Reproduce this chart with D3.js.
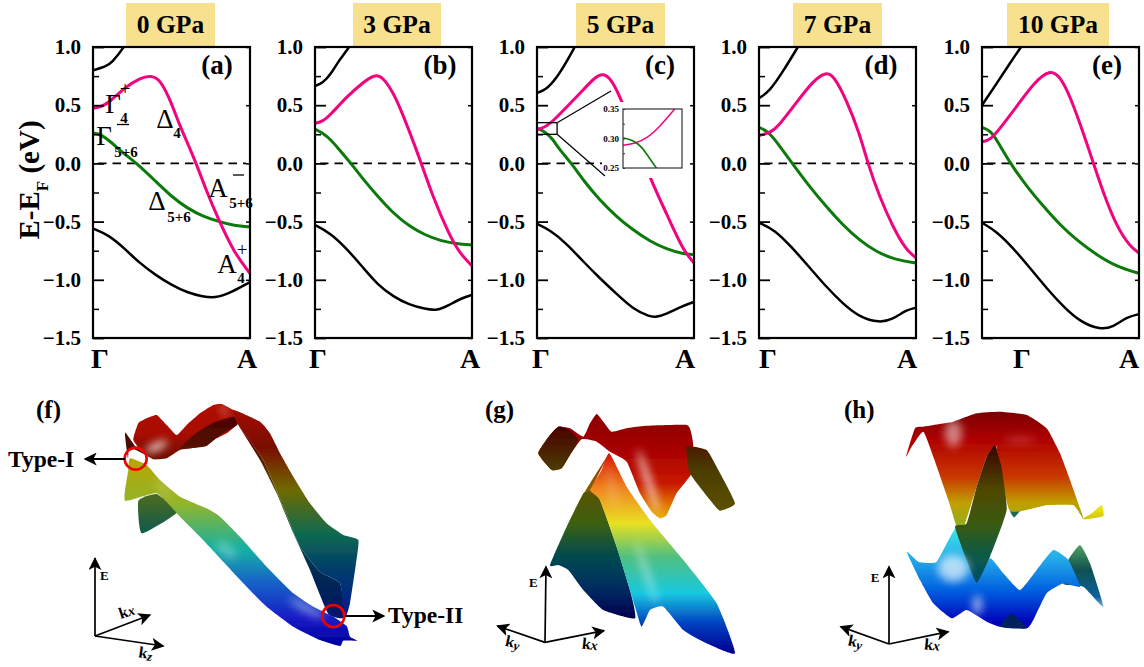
<!DOCTYPE html>
<html>
<head>
<meta charset="utf-8">
<script src="https://cdn.jsdelivr.net/npm/d3@7"></script>
<style>
  html,body{margin:0;padding:0;background:#fff;}
  text{font-family:"Liberation Serif",serif;fill:#000;}
</style>
</head>
<body>
<div id="graficos"></div>
<script>
// band values, [position along Gamma-A (0..1), E-EF in eV]
const pressures=['0 GPa','3 GPa','5 GPa','7 GPa','10 GPa'];
const letras=['(a)','(b)','(c)','(d)','(e)'];
const yMajor=[1,0.5,0,-0.5,-1,-1.5];
const yMinor=[0.75,0.25,-0.25,-0.75,-1.25];

const top0=[[0,.8],[.08,.83],[.12,.865],[.2,1],[.26,1.14]];
const pink0=[[0,.475],[.05,.485],[.1,.52],[.2,.65],[.3,.735],[.37,.755],[.43,.72],[.5,.52],[.55,.33],[.65,.03],[.72,-.23],[.8,-.485],[.9,-.77],[1,-.945]];
const green0=[[0,.26],[.05,.25],[.1,.2],[.2,.08],[.28,0],[.4,-.155],[.5,-.285],[.6,-.385],[.7,-.455],[.8,-.5],[.9,-.535],[1,-.545]];
const low0=[[0,-.56],[.1,-.615],[.2,-.73],[.3,-.86],[.4,-.96],[.5,-1.045],[.6,-1.11],[.7,-1.145],[.78,-1.155],[.85,-1.125],[.93,-1.07],[1,-1.02]];

const top3=[[0,.665],[.05,.69],[.1,.765],[.15,.88],[.22,1],[.27,1.12]];
const pink3=[[0,.345],[.05,.36],[.1,.42],[.2,.57],[.3,.69],[.38,.765],[.43,.745],[.5,.605],[.55,.45],[.6,.28],[.67,.03],[.75,-.285],[.85,-.6],[.92,-.77],[1,-.88]];
const green3=[[0,.295],[.05,.26],[.1,.205],[.15,.125],[.23,0],[.3,-.125],[.4,-.285],[.5,-.43],[.6,-.54],[.7,-.615],[.8,-.665],[.9,-.69],[1,-.7]];
const low3=[[0,-.53],[.1,-.6],[.2,-.73],[.3,-.885],[.4,-1.045],[.5,-1.145],[.6,-1.215],[.7,-1.25],[.78,-1.265],[.85,-1.22],[.93,-1.16],[1,-1.13]];

const top5=[[0,.605],[.06,.635],[.123,.73],[.187,.87],[.24,1],[.29,1.12]];
const pink5=[[0,.29],[.05,.31],[.1,.36],[.2,.5],[.3,.64],[.37,.74],[.42,.775],[.47,.73],[.53,.57],[.6,.33],[.65,.14],[.72,-.13],[.83,-.445],[.93,-.745],[1,-.855]];
const green5=[[0,.3],[.05,.275],[.1,.21],[.145,.115],[.22,0],[.3,-.155],[.4,-.315],[.506,-.457],[.61,-.571],[.72,-.67],[.825,-.737],[.93,-.777],[1,-.785]];
const low5=[[0,-.52],[.08,-.57],[.187,-.686],[.294,-.843],[.4,-.986],[.506,-1.12],[.61,-1.25],[.72,-1.32],[.76,-1.32],[.825,-1.293],[.91,-1.235],[1,-1.19]];

const top7=[[0,.56],[.068,.62],[.153,.79],[.248,1],[.3,1.12]];
const pink7=[[0,.24],[.07,.26],[.13,.33],[.237,.52],[.343,.707],[.428,.79],[.48,.745],[.555,.55],[.64,.26],[.693,0],[.767,-.285],[.852,-.543],[.936,-.744],[1,-.81]];
const green7=[[0,.31],[.057,.275],[.11,.19],[.212,0],[.322,-.2],[.428,-.37],[.534,-.53],[.64,-.66],[.746,-.76],[.873,-.83],[1,-.855]];
const low7=[[0,-.51],[.1,-.57],[.205,-.715],[.31,-.875],[.428,-1.06],[.534,-1.205],[.64,-1.32],[.767,-1.37],[.852,-1.34],[.936,-1.26],[1,-1.24]];

const top10=[[0,.5],[.095,.69],[.18,.865],[.248,1],[.3,1.1]];
const pink10=[[0,.185],[.053,.2],[.117,.305],[.222,.49],[.328,.69],[.434,.81],[.498,.745],[.561,.578],[.646,.26],[.71,0],[.773,-.255],[.858,-.543],[.943,-.715],[1,-.77]];
const green10=[[0,.31],[.053,.285],[.106,.175],[.18,0],[.286,-.2],[.392,-.37],[.498,-.53],[.604,-.66],[.731,-.787],[.858,-.888],[1,-.945]];
const low10=[[0,-.51],[.095,-.586],[.2,-.73],[.307,-.9],[.413,-1.075],[.52,-1.233],[.625,-1.36],[.752,-1.43],[.837,-1.405],[.922,-1.32],[1,-1.295]];

const topos=[top0,top3,top5,top7,top10];
const rosas=[pink0,pink3,pink5,pink7,pink10];
const verdes=[green0,green3,green5,green7,green10];
const baixos=[low0,low3,low5,low7,low10];

// inset of panel c
const insetPink=[[0,.2886],[.0265,.2915],[.0515,.3],[.08,.32],[.112,.35],[.125,.362]];
const insetGreen=[[0,.301],[.0229,.297],[.0408,.286],[.055,.269],[.073,.25],[.08,.24]];

// surface sheets (f,g,h), outlines read in [k,E] picture units
const fBack=[[375,128],[405,168],[440,196],[402,178],[386,182],[384,205]];
const fHump=[[400,150],[415,100],[440,85],[470,75],[500,105],[530,135],[560,105],[600,70],[640,45],[665,42],[700,60],[735,75],[710,105],[680,130],[640,150],[590,172],[540,180],[500,205],[460,208],[430,190]];
const fHumpDark=[[540,175],[590,128],[640,98],[700,80],[712,104],[660,135],[620,168],[580,174]];
const fBand=[[700,60],[780,95],[810,130],[840,190],[880,260],[930,340],[980,400],[1030,435],[1075,450],[1068,520],[1050,640],[1035,682],[1020,580],[960,545],[900,470],[850,350],[790,210],[715,105]];
const fBandDark=[[715,105],[790,210],[850,350],[900,470],[960,545],[1020,580],[1035,682],[985,672],[930,540],[880,430],[830,310],[780,210]];
const fRibbon=[[390,205],[440,225],[480,270],[540,320],[620,355],[660,380],[720,440],[800,530],[880,610],[940,650],[1000,680],[1040,708],[1050,740],[1072,752],[1030,752],[1020,768],[960,750],[880,710],[800,650],[740,590],[670,515],[600,440],[540,380],[470,310],[375,332],[385,240]];
const fFlap=[[415,332],[470,312],[532,366],[425,430]];

const gTop=[[205,190],[240,135],[265,110],[300,115],[340,140],[360,100],[380,72],[400,95],[425,125],[470,115],[520,108],[650,105],[665,135],[670,170],[665,250],[620,310],[590,375],[570,385],[545,365],[510,310],[470,215],[420,185],[380,155],[335,148],[300,195],[275,235],[245,240]];
const gTopEsq=[[205,190],[240,135],[265,110],[295,118],[325,150],[300,195],[275,235],[245,240]];
const gTopDir=[[650,170],[710,180],[745,240],[795,340],[750,362],[720,330],[660,250]];
const gCone=[[418,190],[470,290],[540,390],[640,510],[740,640],[795,790],[700,755],[640,720],[580,650],[540,660],[515,710],[495,650],[440,470],[390,330],[360,300],[395,240]];
const gConeDark=[[360,300],[340,310],[290,410],[240,525],[265,525],[295,540],[340,600],[400,660],[495,685],[480,600],[440,470],[390,330]];
const gConeEsq=[[418,190],[360,300],[345,305],[385,240]];

const hTop=[[258,200],[285,115],[310,110],[340,105],[400,95],[470,70],[540,65],[620,75],[680,115],[720,190],[750,270],[790,385],[760,345],[680,345],[570,362],[530,170],[500,200],[470,290],[430,415],[410,410],[385,330],[340,200],[310,125],[275,170]];
const hFrente=[[530,170],[580,145],[660,140],[710,190],[750,280],[790,385],[760,345],[680,345],[570,362],[545,230]];
const hMeio=[[525,165],[545,230],[560,360],[510,500],[470,580],[440,510],[405,410],[440,400],[470,290],[500,200]];
const hPonta=[[790,385],[815,370],[845,345],[850,378],[795,388]];
const hBit=[[570,362],[603,358],[582,382]];
const hBaixo=[[260,485],[295,515],[350,515],[410,410],[440,505],[470,580],[510,505],[550,550],[600,600],[650,540],[700,480],[745,510],[780,590],[730,580],[680,610],[640,690],[620,715],[540,710],[500,695],[440,660],[395,685],[340,640],[300,570]];
const hCauda=[[745,510],[780,465],[810,520],[850,650],[790,590],[730,582]];
const hPreto=[[540,710],[575,670],[620,715]];

// colour stops [E in picture units, colour]
const fBright=[[200,'#b8a400'],[340,'#93b52a'],[480,'#12b0a4'],[570,'#1268c6'],[680,'#1a1ec8'],[760,'#0000a0']];
const fDim=[[40,'#a80a00'],[170,'#7a0c00'],[300,'#6f6a00'],[430,'#0f6a50'],[540,'#003c6c'],[680,'#001a8c']];
const gBright=[[190,'#d81000'],[300,'#f08a20'],[400,'#e8e020'],[500,'#50c080'],[610,'#18c8e0'],[700,'#0040c0'],[790,'#000090']];
const gDim=[[300,'#5c5200'],[400,'#3c6010'],[500,'#004a50'],[600,'#002a60'],[680,'#000050']];
const gRed=[[70,'#8a0000'],[180,'#a80000'],[280,'#c81800'],[340,'#e07000'],[385,'#e8b000']];
const gFold=[[110,'#4a0000'],[240,'#4c3c00'],[360,'#5a5000']];
const hRed=[[65,'#7a0000'],[150,'#b00000'],[260,'#c83800'],[340,'#c0a000'],[415,'#90b020']];
const hFold=[[165,'#3a0000'],[300,'#504800'],[400,'#3a5a10'],[500,'#0a5a4a'],[580,'#004a70']];
const hBlue=[[410,'#40e8e8'],[520,'#20a0e8'],[600,'#0060e0'],[700,'#0000b8']];
const hTeal=[[465,'#50a060'],[540,'#105050'],[620,'#0a60a0'],[650,'#80b0d0']];

const largura=1144, altura=667;
const svg=d3.select('#graficos').append('svg')
  .attr('width',largura).attr('height',altura)
  .style('display','block');
const defs=svg.append('defs');

const quadros=[93,315,537,759,982];
const caixas=[[126,215],[353,441],[576,665],[793,882],[1007,1109]];
const gammaX=[100,318,541,768,1022];
const aX=[247,470,685,907,1129];
const letraX=[217,440,660,881,1107];

const w=157, yTopo=47, yBase=338;
const y=d3.scaleLinear().domain([-1.5,1]).range([yBase,yTopo]);

const linha=(xs,ys)=>d3.line().x(d=>xs(d[0])).y(d=>ys(d[1])).curve(d3.curveBasis);

pressures.forEach((nome,i)=>{
  const x0=quadros[i];
  const x=d3.scaleLinear().domain([0,1]).range([x0,x0+w]);
  const g=svg.append('g');

  g.append('rect').attr('x',caixas[i][0]).attr('y',3)
    .attr('width',caixas[i][1]-caixas[i][0]).attr('height',yTopo-3)
    .attr('fill','#f7e08e');
  g.append('text').attr('x',(caixas[i][0]+caixas[i][1])/2).attr('y',33)
    .attr('text-anchor','middle').attr('font-weight','bold').attr('font-size',25.5).text(nome);

  defs.append('clipPath').attr('id','corte'+i).append('rect')
    .attr('x',x0).attr('y',yTopo).attr('width',w).attr('height',yBase-yTopo);

  const corpo=g.append('g').attr('clip-path','url(#corte'+i+')');
  corpo.append('line').attr('x1',x0+5).attr('x2',x0+w-4).attr('y1',y(0)).attr('y2',y(0))
    .attr('stroke','#000').attr('stroke-width',1.7).attr('stroke-dasharray','8.5,6');

  const l=linha(x,y);
  [[baixos[i],'#000',2.5],[topos[i],'#000',2.5],[verdes[i],'#0b7a0b',3],[rosas[i],'#f0047f',3]].forEach(c=>{
    corpo.append('path').attr('d',l(c[0])).attr('fill','none')
      .attr('stroke',c[1]).attr('stroke-width',c[2]);
  });

  // eixos
  const esq=g.append('g').attr('transform','translate('+x0+',0)')
    .call(d3.axisLeft(y).tickValues(yMajor).tickFormat(d3.format('.1f')).tickSizeInner(-11).tickSizeOuter(0).tickPadding(12));
  esq.select('.domain').remove();
  esq.selectAll('line').attr('stroke','#000').attr('stroke-width',1.8);
  esq.selectAll('text').attr('font-size',21).attr('font-weight','bold')
    .attr('font-family','"Liberation Serif",serif').attr('fill','#000');
  const esqMin=g.append('g').attr('transform','translate('+x0+',0)')
    .call(d3.axisLeft(y).tickValues(yMinor).tickFormat('').tickSizeInner(-6).tickSizeOuter(0));
  esqMin.select('.domain').remove();
  esqMin.selectAll('line').attr('stroke','#000').attr('stroke-width',1.5);
  const dir=g.append('g').attr('transform','translate('+(x0+w)+',0)')
    .call(d3.axisRight(y).tickValues(yMajor).tickFormat('').tickSizeInner(-4).tickSizeOuter(0));
  dir.select('.domain').remove();
  dir.selectAll('line').attr('stroke','#000').attr('stroke-width',1.5);

  g.append('rect').attr('class','quadro').attr('x',x0).attr('y',yTopo).attr('width',w).attr('height',yBase-yTopo)
    .attr('fill','none').attr('stroke','#000').attr('stroke-width',2.2);

  g.append('text').attr('x',gammaX[i]).attr('y',368).attr('text-anchor','middle')
    .attr('font-size',28).attr('font-weight','bold').text('Γ');
  g.append('text').attr('x',aX[i]).attr('y',368).attr('text-anchor','middle')
    .attr('font-size',28).attr('font-weight','bold').text('A');
  g.append('text').attr('x',letraX[i]).attr('y',74).attr('text-anchor','middle')
    .attr('font-size',27).attr('font-weight','bold').text(letras[i]);

  if(i===2){
    // caixinha e zoom do painel c
    const xs=x(.128), topoC=y(.35), baseC=y(.25);
    g.append('rect').attr('x',602).attr('y',102).attr('width',88).attr('height',76).attr('fill','#fff');
    g.append('rect').attr('x',x0).attr('y',topoC).attr('width',xs-x0).attr('height',baseC-topoC)
      .attr('fill','none').attr('stroke','#000').attr('stroke-width',1.3);
    g.append('line').attr('x1',xs).attr('y1',topoC).attr('x2',611).attr('y2',91).attr('stroke','#000').attr('stroke-width',1.2);
    g.append('line').attr('x1',xs).attr('y1',baseC).attr('x2',605).attr('y2',176).attr('stroke','#000').attr('stroke-width',1.2);

    const xi=d3.scaleLinear().domain([0,.128]).range([623,682]);
    const yi=d3.scaleLinear().domain([.25,.35]).range([168,109]);
    defs.append('clipPath').attr('id','corteInset').append('rect')
      .attr('x',623).attr('y',109).attr('width',59).attr('height',59);
    const ins=g.append('g').attr('clip-path','url(#corteInset)');
    const li=linha(xi,yi);
    ins.append('path').attr('d',li(insetPink)).attr('fill','none').attr('stroke','#f0047f').attr('stroke-width',1.5);
    ins.append('path').attr('d',li(insetGreen)).attr('fill','none').attr('stroke','#0b7a0b').attr('stroke-width',1.6);
    const ax=g.append('g').attr('transform','translate(623,0)')
      .call(d3.axisLeft(yi).tickValues([.35,.325,.3,.275,.25]).tickFormat(d=>Math.round(d*1000)%50===0?d3.format('.2f')(d):'').tickSizeInner(-2).tickSizeOuter(0).tickPadding(4));
    ax.select('.domain').remove();
    ax.selectAll('line').attr('stroke','#333');
    ax.selectAll('text').attr('font-size',9).attr('font-weight','bold')
      .attr('font-family','"Liberation Serif",serif').attr('fill','#222');
    g.append('rect').attr('x',623).attr('y',109).attr('width',59).attr('height',59)
      .attr('fill','none').attr('stroke','#333').attr('stroke-width',1.2);
  }
});

// titulo do eixo y
const tituloY=svg.append('text').attr('transform','translate(39,180) rotate(-90)')
  .attr('text-anchor','middle').attr('font-weight','bold').attr('font-size',29);
tituloY.append('tspan').text('E-E');
tituloY.append('tspan').attr('font-size',17).attr('dy',9).text('F');
tituloY.append('tspan').attr('dy',-9).text(' (eV)');

// rotulos de simetria no painel a
function rotulo(txt,xx,yy,tam,peso){
  svg.append('text').attr('x',xx).attr('y',yy).attr('text-anchor','middle')
    .attr('font-size',tam).attr('font-weight',peso||'normal').text(txt);
}
rotulo('Γ',113,113,27); rotulo('+',125,95,19); rotulo('4',124,123,15,'bold');
rotulo('Γ',104,145,27); rotulo('5+6',126,157,15,'bold');
rotulo('Δ',165,128,27); rotulo('4',177,138,15,'bold');
rotulo('A',218,197,27); rotulo('5+6',241,208,15,'bold');
rotulo('Δ',157,210,27); rotulo('5+6',179,222,15,'bold');
rotulo('A',227,273,27); rotulo('+',242,256,19); rotulo('4',241,283,15,'bold');
svg.append('line').attr('x1',117).attr('x2',129).attr('y1',124.5).attr('y2',124.5).attr('stroke','#000').attr('stroke-width',1.3);
svg.append('line').attr('x1',233).attr('x2',244).attr('y1',175).attr('y2',175).attr('stroke','#000').attr('stroke-width',1.3);

// superficies
const borrao=defs.append('filter').attr('id','borrao').attr('x','-10%').attr('y','-10%').attr('width','120%').attr('height','120%');
borrao.append('feGaussianBlur').attr('stdDeviation',.5);
const brilho=defs.append('filter').attr('id','brilho').attr('x','-150%').attr('y','-150%').attr('width','400%').attr('height','400%');
brilho.append('feGaussianBlur').attr('stdDeviation',4);
const seta=defs.append('marker').attr('id','seta').attr('viewBox','0 0 10 10').attr('refX',9).attr('refY',5)
  .attr('markerWidth',13).attr('markerHeight',13).attr('markerUnits','userSpaceOnUse').attr('orient','auto');
seta.append('path').attr('d','M0,0L10,5L0,10L2.5,5Z').attr('fill','#000');

let contaGrad=0;
function gradiente(stops,ys){
  const id='grad'+(contaGrad++);
  const lo=stops[0][0], hi=stops[stops.length-1][0];
  const gr=defs.append('linearGradient').attr('id',id).attr('gradientUnits','userSpaceOnUse')
    .attr('x1',0).attr('x2',0).attr('y1',ys(lo)).attr('y2',ys(hi));
  stops.forEach(s=>gr.append('stop').attr('offset',(s[0]-lo)/(hi-lo)).attr('stop-color',s[1]));
  return 'url(#'+id+')';
}

function painel3d(xr,sheets,brilhos){
  const xs=d3.scaleLinear().domain([0,xr[1]]).range([xr[0],xr[0]+xr[1]/3]);
  const ys=d3.scaleLinear().domain([0,831]).range([390,667]);
  const g=svg.append('g').attr('filter','url(#borrao)');
  const forma=d3.line().x(d=>xs(d[0])).y(d=>ys(d[1])).curve(d3.curveCardinalClosed.tension(0.55));
  sheets.forEach(s=>{
    g.append('path').attr('d',forma(s[0])).attr('fill',typeof s[1]==='string'?s[1]:gradiente(s[1],ys));
  });
  brilhos.forEach(b=>{
    svg.append('ellipse').attr('cx',xs(b[0])).attr('cy',ys(b[1])).attr('rx',b[2]/3).attr('ry',b[3]/3)
      .attr('transform','rotate('+b[4]+' '+xs(b[0])+' '+ys(b[1])+')')
      .attr('fill','#fff').attr('opacity',b[5]).attr('filter','url(#brilho)');
  });
  return {xs,ys};
}

const pf=painel3d([0,1200],[
  [fBack,'#4a0800'],
  [fHump,[[40,'#b00800'],[130,'#a80800'],[210,'#6a1000']]],
  [fHumpDark,[[80,'#4a0000'],[200,'#5a1800']]],
  [fBandDark,fDim.map(s=>[s[0],d3.color(s[1]).darker(.8).formatHex()])],
  [fBand,fDim],
  [fFlap,[[320,'#4a6a20'],[430,'#0f5a50']]],
  [fRibbon,fBright]
],[[470,170,36,10,-25,.9],[672,62,6,20,-25,.5],[680,480,36,16,40,.3],[920,655,60,10,28,.5],[490,295,8,34,-40,.3]]);

const pg=painel3d([470,900],[
  [gTop,gRed],
  [gTopEsq,gFold],
  [gTopDir,gFold],
  [gConeDark,gDim],
  [gCone,gBright],
  [gConeEsq,[[190,'#c02000'],[305,'#7a6000']]]
],[[535,275,10,100,-18,.75],[425,290,8,70,-10,.25],[530,550,10,100,-18,.4]]);

const ph=painel3d([820,900],[
  [hBit,'#1a6a50'],
  [hCauda,hTeal],
  [hBaixo,hBlue],
  [hPreto,'#002060'],
  [hTop,hRed],
  [hMeio,hFold],
  [hFrente,hRed],
  [hPonta,[[345,'#f0f020'],[390,'#d0c000']]]
],[[400,130,26,40,0,.5],[400,535,46,40,0,.65],[472,645,14,30,0,.6],[600,150,50,10,0,.2]]);

// eixos dos paineis de baixo
function eixos3d(p,orig,pontas){
  pontas.forEach(q=>{
    svg.append('line').attr('x1',p.xs(orig[0])).attr('y1',p.ys(orig[1]))
      .attr('x2',p.xs(q[0])).attr('y2',p.ys(q[1]))
      .attr('stroke','#000').attr('stroke-width',1.7).attr('marker-end','url(#seta)');
  });
}
eixos3d(pf,[285,738],[[285,505],[450,675],[490,768]]);
eixos3d(pg,[225,757],[[228,530],[82,708],[402,722]]);
eixos3d(ph,[207,762],[[207,530],[62,710],[385,725]]);

function rotuloK(p,px,py,sub,rot){
  const xx=p.xs(px), yy=p.ys(py);
  const t=svg.append('text').attr('transform','translate('+xx+','+yy+') rotate('+rot+')')
    .attr('text-anchor','middle').attr('font-weight','bold').attr('font-size',16);
  t.append('tspan').text('k');
  t.append('tspan').attr('font-style','italic').attr('font-size',sub==='x'?14:13).attr('dy',sub==='x'?0:2).text(sub);
}
function rotuloE(p,px,py){
  svg.append('text').attr('x',p.xs(px)).attr('y',p.ys(py)).attr('text-anchor','middle')
    .attr('font-weight','bold').attr('font-size',13).text('E');
}
rotuloE(pf,313,570); rotuloK(pf,385,680,'x',-18); rotuloK(pf,435,805,'z',8);
rotuloE(pg,190,592); rotuloK(pg,125,772,'y',12); rotuloK(pg,358,778,'x',6);
rotuloE(ph,165,577); rotuloK(ph,103,770,'y',12); rotuloK(ph,335,780,'x',6);

// circulos e setas de f
[[407,206],[1000,678]].forEach(c=>{
  svg.append('circle').attr('cx',pf.xs(c[0])).attr('cy',pf.ys(c[1])).attr('r',11)
    .attr('fill','none').attr('stroke','#f00000').attr('stroke-width',2.6);
});
svg.append('line').attr('x1',pf.xs(375)).attr('y1',pf.ys(207)).attr('x2',pf.xs(255)).attr('y2',pf.ys(207))
  .attr('stroke','#000').attr('stroke-width',1.8).attr('marker-end','url(#seta)');
svg.append('line').attr('x1',pf.xs(1035)).attr('y1',pf.ys(678)).attr('x2',pf.xs(1152)).attr('y2',pf.ys(678))
  .attr('stroke','#000').attr('stroke-width',1.8).attr('marker-end','url(#seta)');

[['Type-I',8,467],['Type-II',388,623]].forEach(t=>{
  svg.append('text').attr('x',t[1]).attr('y',t[2]).attr('font-weight','bold').attr('font-size',23.5).text(t[0]);
});
[['(f)',36,418],['(g)',485,418],['(h)',844,418]].forEach(t=>{
  svg.append('text').attr('x',t[1]).attr('y',t[2]).attr('font-weight','bold').attr('font-size',25).text(t[0]);
});
</script>
</body>
</html>
